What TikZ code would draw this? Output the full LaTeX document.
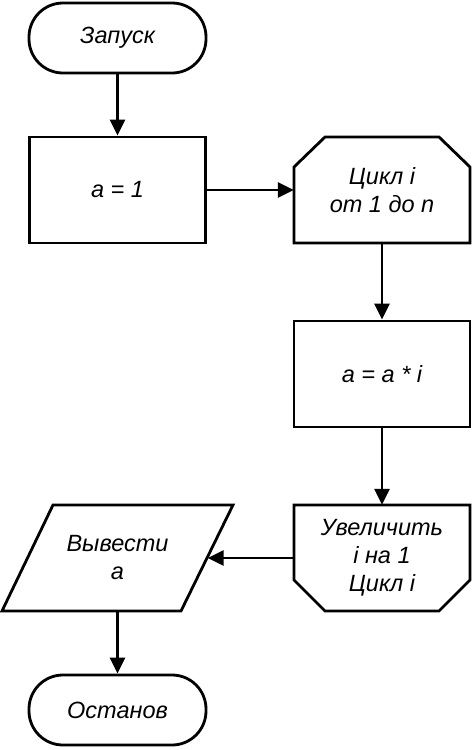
\documentclass[tikz,border=0pt]{standalone}
\usepackage{fontspec}
\setmainfont{Liberation Sans}
\usetikzlibrary{arrows.meta}
\begin{document}
\begin{tikzpicture}[x=1pt,y=-1pt,
  lw/.style={line width=2.8pt},
  txt/.style={align=center,font=\fontsize{23.5}{28}\selectfont\itshape,inner sep=0pt},
  boxsty/.style={txt,lw,draw,minimum width=176pt,minimum height=106pt},
  term/.style={txt,lw,draw,rounded corners=34pt,minimum width=177pt,minimum height=70pt},
  ghost/.style={txt,minimum width=176pt,minimum height=106pt},
  conn/.style={lw,-{Triangle[length=16pt,width=15pt]}}]
\useasboundingbox (0,0) rectangle (474,750);
\node[term] (start) at (117.5,38) {Запуск};
\node[boxsty] (a1) at (117.5,190) {a = 1};
\node[ghost] (loopA) at (382,190) {Цикл i\\от 1 до n};
\draw[lw] (294,243) -- (294,167) -- (325,137) -- (439,137) -- (470,167) -- (470,243) -- cycle;
\node[boxsty] (mult) at (382,374) {a = a * i};
\node[ghost] (loopB) at (382,558) {Увеличить\\i на 1\\Цикл i};
\draw[lw] (294,505) -- (470,505) -- (470,580) -- (439,611) -- (325,611) -- (294,580) -- cycle;
\node[txt,minimum width=180pt,minimum height=106pt] (out) at (117.5,558) {Вывести\\a};
\draw[lw] (53,505) -- (233,505) -- (181,611) -- (2,611) -- cycle;
\node[term] (stop) at (117.5,710) {Останов};
\draw[conn] (start) -- (a1);
\draw[conn] (a1) -- (loopA);
\draw[conn] (loopA) -- (mult);
\draw[conn] (mult) -- (loopB);
\draw[conn] (loopB) -- (out);
\draw[conn] (out) -- (stop);
\end{tikzpicture}
\end{document}
